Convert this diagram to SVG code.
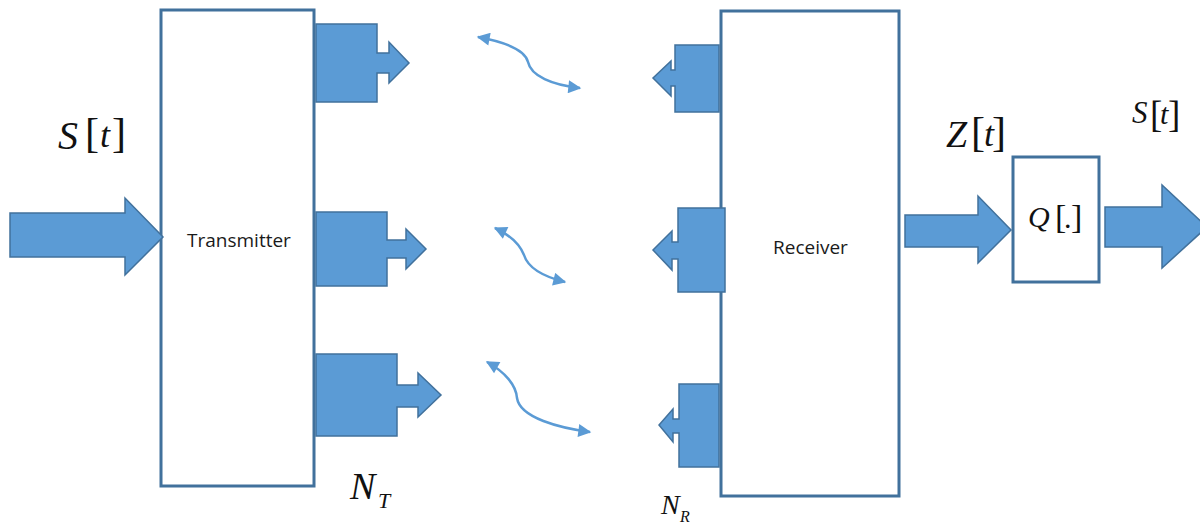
<svg xmlns="http://www.w3.org/2000/svg" width="1200" height="524" viewBox="0 0 1200 524">
<style>
.box{fill:#fff;stroke:#41719C;stroke-width:3}
.blk{fill:#5B9BD5;stroke:#41719C;stroke-width:1.5;stroke-linejoin:miter}
.wave{fill:none;stroke:#5B9BD5;stroke-width:2.5}
.lbl{font-family:"Open Sans","Liberation Sans",sans-serif;font-size:19px;fill:#1a1a1a}
.m{font-family:"Liberation Serif","Times New Roman",serif;fill:#111}
.i{font-style:italic}
</style>
<defs>
<marker id="ah" viewBox="0 0 10 10" refX="9" refY="5" markerWidth="14" markerHeight="13" markerUnits="userSpaceOnUse" orient="auto-start-reverse">
<path d="M0,0 L10,5 L0,10 z" fill="#5B9BD5"/>
</marker>
</defs>
<g id="transmitter">
<rect class="box" x="161" y="10" width="153" height="476"/>
<text class="lbl" x="187" y="247">Transmitter</text>
</g>
<g id="receiver">
<rect class="box" x="721" y="11" width="178" height="485"/>
<text class="lbl" x="773" y="254">Receiver</text>
</g>
<g id="quantizer">
<rect class="box" x="1013" y="157" width="86" height="125"/>
<text class="m" y="227"><tspan class="i" x="1028" font-size="30">Q</tspan><tspan x="1055" font-size="34" dy="1">[</tspan><tspan x="1064" font-size="30">.</tspan><tspan x="1071" font-size="34">]</tspan></text>
</g>
<g id="tx-antennas">
<polygon class="blk" points="316,24 377,24 377,53 389,53 389,42 409,63 389,83 389,73 377,73 377,102 316,102"/>
<polygon class="blk" points="316,212 387,212 387,240 406,240 406,229 426,249 406,269 406,258 387,258 387,286 316,286"/>
<polygon class="blk" points="316,354 397,354 397,385 418,385 418,373 441,395 418,417 418,407 397,407 397,436 316,436"/>
</g>
<g id="rx-antennas">
<polygon class="blk" points="719,45 675,45 675,70 671,70 671,61 653,78 671,96 671,86 675,86 675,112 719,112"/>
<polygon class="blk" points="725,208 678,208 678,242 672,242 672,231 653,250 672,270 672,259 678,259 678,292 725,292"/>
<polygon class="blk" points="719,384 679,384 679,419 673,419 673,409 659,425 673,442 673,433 679,433 679,467 719,467"/>
</g>
<g id="connectors">
<polygon class="blk" points="10,213 125,213 125,198 163,237 125,275 125,257 10,257"/>
<polygon class="blk" points="905,215 978,215 978,196 1011,230 978,263 978,247 905,247"/>
<polygon class="blk" points="1105,207 1162,207 1162,185 1207,227 1162,268 1162,247 1105,247"/>
<path class="wave" marker-start="url(#ah)" marker-end="url(#ah)" d="M478,37 C505,42 525,50 528,62 C531,76 552,85 580,88"/>
<path class="wave" marker-start="url(#ah)" marker-end="url(#ah)" d="M495,228 C510,235 520,245 524,255 C528,268 545,277 565,282"/>
<path class="wave" marker-start="url(#ah)" marker-end="url(#ah)" d="M487,362 C505,372 516,385 517,398 C520,418 560,428 590,432"/>
</g>
<g id="labels">
<text class="m" y="149"><tspan class="i" x="58" font-size="40">S</tspan><tspan x="85" font-size="42" dy="-2">[</tspan><tspan class="i" x="100" font-size="36" dy="0">t</tspan><tspan x="112" font-size="42">]</tspan></text>
<text class="m" y="147"><tspan class="i" x="946" font-size="38">Z</tspan><tspan x="971" font-size="42" dy="-1">[</tspan><tspan class="i" x="984" font-size="36">t</tspan><tspan x="992" font-size="42">]</tspan></text>
<text class="m" y="123"><tspan class="i" x="1132" font-size="31">S</tspan><tspan x="1150" font-size="37" dy="4">[</tspan><tspan class="i" x="1160" font-size="30" dy="-3">t</tspan><tspan x="1168" font-size="37" dy="3">]</tspan></text>
<text class="m" y="499"><tspan class="i" x="350" font-size="38">N</tspan><tspan class="i" x="378" font-size="22" dy="9">T</tspan></text>
<text class="m" y="514"><tspan class="i" x="661" font-size="28">N</tspan><tspan class="i" x="680" font-size="16" dy="8">R</tspan></text>
</g>
</svg>
